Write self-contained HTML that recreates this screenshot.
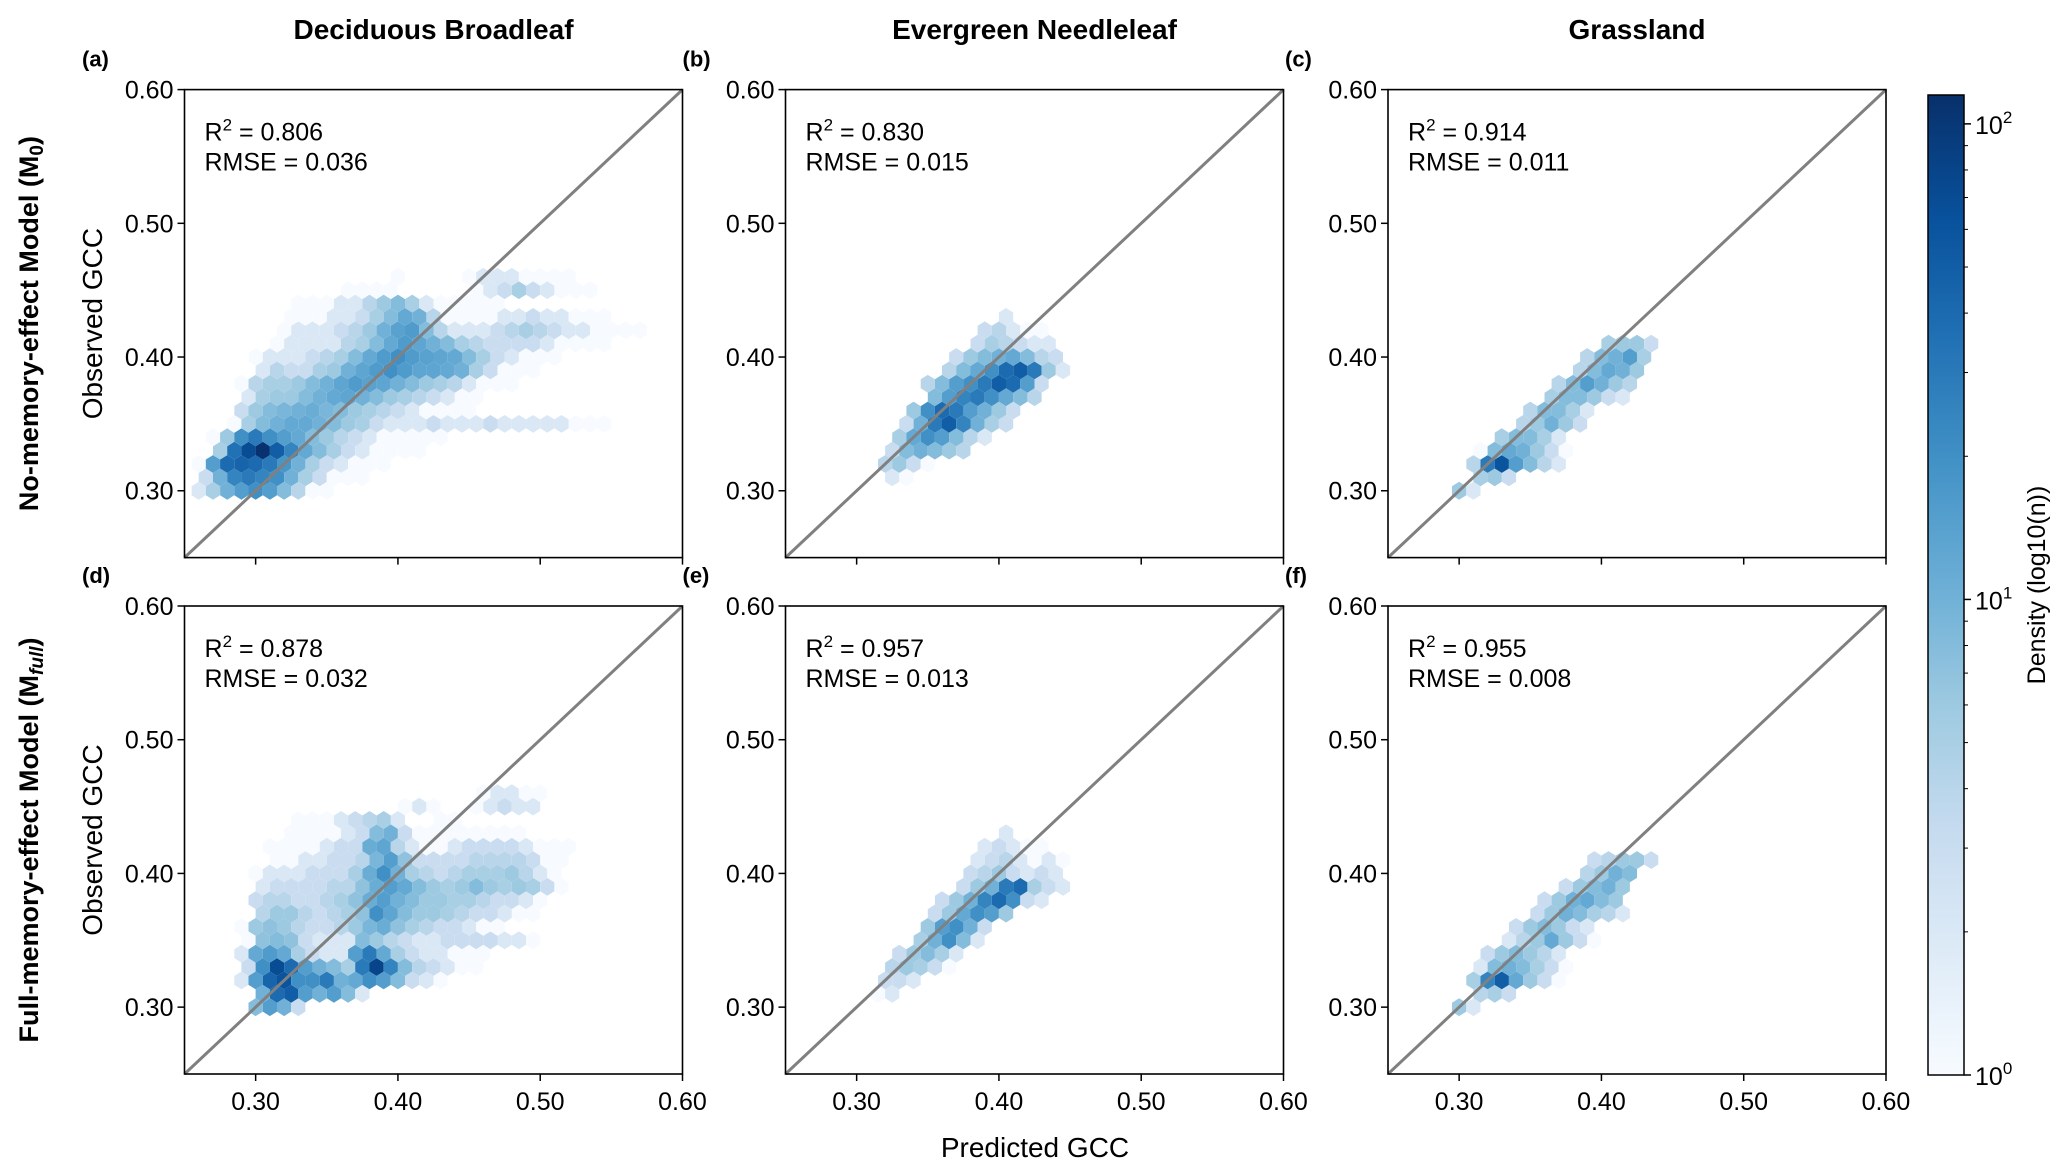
<!DOCTYPE html>
<html><head><meta charset="utf-8">
<style>
html,body{margin:0;padding:0;background:#fff;}
svg{display:block;font-family:"Liberation Sans",Arial,sans-serif;}
</style></head>
<body>
<svg id="fig" width="2067" height="1176" viewBox="0 0 2067 1176" xmlns="http://www.w3.org/2000/svg">
<rect x="0" y="0" width="2067" height="1176" fill="#fff"/>
</svg>
<script>
// ---------- data ----------
const columnTitles = ["Deciduous Broadleaf", "Evergreen Needleleaf", "Grassland"];
const rowTitles = ["No-memory-effect Model (M", "Full-memory-effect Model (M"];
const rowSubs = ["0", "full"];
const panelLetters = ["(a)", "(b)", "(c)", "(d)", "(e)", "(f)"];
const r2Values = ["0.806", "0.830", "0.914", "0.878", "0.957", "0.955"];
const rmseValues = ["0.036", "0.015", "0.011", "0.032", "0.013", "0.008"];
const tickValues = [0.30, 0.40, 0.50, 0.60];
const tickLabels = ["0.30", "0.40", "0.50", "0.60"];
const axisMin = 0.25, axisMax = 0.60;
const binWidth = 0.01;
const cbarMax = 115;

// panel a
const yA = [0.30,0.31,0.32,0.33,0.34,0.35,0.36,0.37,0.38,0.39,0.40,0.41,0.42,0.43,0.44,0.45,0.46];
const xStartA = [0.25,0.25,0.25,0.25,0.25,0.25,0.25,0.25,0.25,0.25,0.25,0.25,0.25,0.25,0.25,0.25,0.25];
const countsA = [
 [0,2,5,10,15,20,15,8,4,1,1],
 [0,3,10,25,30,25,20,10,5,3,1,1,1],
 [0,1,15,40,45,40,30,18,10,5,3,2,1,1,1],
 [0,0,5,35,70,110,50,25,12,8,5,3,2,1,1,1,1],
 [0,0,1,6,20,30,20,15,12,8,6,4,3,2,1,1,1,1,1],
 [0,0,0,1,5,8,10,12,12,10,8,6,5,3,2,2,2,3,2,2,2,3,2,2,2,2,2,1,1,1],
 [0,0,0,0,3,6,8,9,10,11,9,8,6,5,4,3,2,1,1,1,1],
 [0,0,0,0,2,5,6,6,8,10,12,13,10,8,6,5,4,3,2,1,1],
 [0,0,0,0,1,4,5,5,6,8,10,13,16,14,13,10,8,6,5,4,2,1,1,1],
 [0,0,0,0,0,2,4,3,3,5,6,10,13,16,20,16,13,13,12,10,5,3,1,1,1],
 [0,0,0,0,0,1,2,2,2,3,4,5,8,12,16,20,16,14,13,12,8,5,3,2,1,1,1],
 [0,0,0,0,0,0,1,2,2,2,2,4,5,8,12,16,13,10,8,5,4,3,3,3,3,2,1,1,1,1],
 [0,0,0,0,0,0,0,1,2,2,2,3,4,6,10,14,16,8,4,2,2,2,3,4,5,4,3,2,2,1,1,1,1],
 [0,0,0,0,0,0,0,1,1,1,2,2,3,5,8,12,10,4,1,1,1,1,2,2,3,2,2,1,1,1],
 [0,0,0,0,0,0,0,0,1,1,1,2,2,4,6,8,5,2,1,1,1,1,1],
 [0,0,0,0,0,0,0,0,0,0,0,1,1,1,1,0,0,0,0,0,1,2,3,5,3,2,1,1,1],
 [0,0,0,0,0,0,0,0,0,0,0,0,0,0,0,1,0,0,0,0,1,2,2,2,1,1,1,1]
];
// panel b
const yB = [0.31,0.32,0.33,0.34,0.35,0.36,0.37,0.38,0.39,0.40,0.41,0.42,0.43];
const xStartB = [0.32,0.32,0.32,0.33,0.33,0.34,0.35,0.35,0.36,0.37,0.38,0.39,0.40];
const countsB = [
 [2,1],[4,6,3,1],[3,8,10,8,6,4],[5,12,20,15,8,4,2],[3,10,30,50,25,10,5,3],
 [6,20,40,30,15,10,6,3],[8,15,25,30,20,12,8,4],[4,8,15,20,30,50,40,15,3],
 [4,8,12,20,40,50,30,6,2],[3,6,8,10,12,8,4,3],[3,5,4,3,2,2],[3,4,2,1,1],[2]
];
// panel c
const yC = [0.30,0.31,0.32,0.33,0.34,0.35,0.36,0.37,0.38,0.39,0.40,0.41];
const xStartC = [0.30,0.31,0.31,0.31,0.33,0.34,0.35,0.36,0.37,0.38,0.39,0.40];
const countsC = [
 [6,2],[5,6,3],[4,30,60,15,8,4,2],[1,8,12,10,6,3,1],[5,8,8,5,2],[4,6,10,6,3],
 [4,8,8,5,2],[5,8,8,6,3,2],[4,8,15,10,6,4],[4,8,12,10,6],[4,8,10,15,5],[5,6,6,3]
];
// panel d
const yD = yA.slice();
const xStartD = xStartA.slice();
const countsD = [
 [0,0,0,0,0,8,15,10,3],
 [0,0,0,0,0,10,40,50,15,10,15,8,2],
 [0,0,0,0,2,15,45,60,20,20,30,10,12,20,15,8,3,2,1],
 [0,0,0,0,3,20,70,40,15,10,8,5,30,80,25,8,4,3,2,1,1],
 [0,0,0,0,2,12,16,12,5,3,2,2,15,30,12,5,3,2,2,1,1,1],
 [0,0,0,0,1,7,8,7,3,2,2,2,8,6,4,3,2,2,3,3,3,3,2,2,1],
 [0,0,0,0,1,6,7,6,4,3,3,4,6,9,11,7,5,4,3,3,2,1,1],
 [0,0,0,0,0,4,6,6,4,3,4,5,7,20,13,8,6,6,5,4,3,3,2,1,1],
 [0,0,0,0,0,3,4,4,3,3,4,5,7,11,15,10,8,6,6,5,5,4,3,3,2,1],
 [0,0,0,0,0,2,3,3,3,3,4,4,7,11,15,12,8,6,5,6,8,6,5,6,5,3,1],
 [0,0,0,0,0,1,2,2,2,3,3,3,5,11,20,10,5,4,3,4,5,5,5,6,4,2,1],
 [0,0,0,0,0,0,1,1,2,2,3,3,4,9,15,7,3,3,3,3,4,4,4,4,3,1,1],
 [0,0,0,0,0,0,1,1,1,1,2,3,3,11,13,4,2,1,1,2,3,3,3,3,2,1,1,1],
 [0,0,0,0,0,0,0,1,1,1,1,2,3,8,10,3,1,1,1,1,1,1,1,1],
 [0,0,0,0,0,0,0,0,1,1,1,2,3,4,5,2,0,0,1,1],
 [0,0,0,0,0,0,0,0,0,0,0,0,0,0,0,1,2,1,0,0,1,2,3,2,2],
 [0,0,0,0,0,0,0,0,0,0,0,0,0,0,0,0,0,0,0,0,0,1,2,2,1,1]
];
// panel e
const yE = [0.31,0.32,0.33,0.34,0.35,0.36,0.37,0.38,0.39,0.40,0.41,0.42,0.43];
const xStartE = [0.31,0.32,0.32,0.33,0.34,0.35,0.35,0.36,0.37,0.38,0.38,0.39,0.40];
const countsE = [
 [1,2],[3,3,2],[4,6,5,3,1],[3,6,8,5,2],[5,10,20,8,2],[6,15,20,10,3],
 [3,6,12,20,15,6],[3,6,10,25,40,20,3,2],[3,6,10,30,40,5,3,2],[3,4,6,3,2,3,2],
 [2,3,4,2,1,2,1],[2,3,2,1,1],[2]
];
// panel f
const yF = [0.30,0.31,0.32,0.33,0.34,0.35,0.36,0.37,0.38,0.39,0.40,0.41];
const xStartF = [0.30,0.31,0.31,0.31,0.32,0.33,0.34,0.35,0.36,0.37,0.39,0.39];
const countsF = [
 [6,2],[4,5,3],[5,25,50,12,6,3,1],[2,8,10,8,5,3,1],[3,6,8,6,4,2],[2,4,6,12,6,3,1],
 [3,6,8,6,3,2],[3,6,10,8,5,4,2],[3,6,10,12,8,6],[3,6,8,10,6],[4,6,10,8],[3,4,6,6,3]
];

// ---------- layout ----------
const NS = "http://www.w3.org/2000/svg";
const svg = document.getElementById("fig");
const colLeft = [184.5, 785.5, 1388];
const rowTop = [89.6, 606];
const PW = 498, PH = 468;
const panels = [
 {y:yA, xs:xStartA, c:countsA}, {y:yB, xs:xStartB, c:countsB}, {y:yC, xs:xStartC, c:countsC},
 {y:yD, xs:xStartD, c:countsD}, {y:yE, xs:xStartE, c:countsE}, {y:yF, xs:xStartF, c:countsF}
];
const blues = [[247,251,255],[222,235,247],[198,219,239],[158,202,225],[107,174,214],[66,146,198],[33,113,181],[8,81,156],[8,48,107]];
function colorFor(n){
  let t = Math.log10(n)/Math.log10(cbarMax); t = Math.max(0, Math.min(1, t));
  const p = t*8, i = Math.min(7, Math.floor(p)), f = p - i;
  const a = blues[i], b = blues[i+1];
  return "rgb(" + a.map((v,k)=>Math.round(v+(b[k]-v)*f)).join(",") + ")";
}
function mk(tag, attrs, parent){
  const e = document.createElementNS(NS, tag);
  for (const k in attrs) e.setAttribute(k, attrs[k]);
  (parent||svg).appendChild(e);
  return e;
}
function txt(x, y, s, size, weight, anchor, parent){
  const t = mk("text", {x:x, y:y, "font-size":size, "font-weight":weight||"normal", "text-anchor":anchor||"start", fill:"#000"}, parent);
  t.textContent = s;
  return t;
}

for (let p = 0; p < 6; p++){
  const r = Math.floor(p/3), c = p%3;
  const L = colLeft[c], T = rowTop[r];
  const sx = v => L + (v-axisMin)/(axisMax-axisMin)*PW;
  const sy = v => T + PH - (v-axisMin)/(axisMax-axisMin)*PH;
  const g = mk("g", {});
  
  
  const hw = (sx(binWidth) - sx(0))/2;
  const rowH = sy(0) - sy(binWidth);
  const hr = rowH/1.5;
  const d = panels[p];
  const hexG = mk("g", {}, g);
  
  
  for (let i = 0; i < d.y.length; i++){
    const yRow = d.y[i];
    const off = (Math.round((yRow-0.30)/binWidth) % 2 !== 0) ? binWidth/2 : 0;
    for (let j = 0; j < d.c[i].length; j++){
      const n = d.c[i][j];
      if (!n) continue;
      const cx = sx(d.xs[i] + j*binWidth + off), cy = sy(yRow);
      const pts = [[0,-hr],[hw,-hr/2],[hw,hr/2],[0,hr],[-hw,hr/2],[-hw,-hr/2]].map(q=>(cx+q[0]).toFixed(1)+","+(cy+q[1]).toFixed(1)).join(" ");
      const h = mk("polygon", {points:pts, fill:colorFor(n)}, hexG);
      
      
    }
  }
  const ln = mk("line", {x1:sx(axisMin), y1:sy(axisMin), x2:sx(axisMax), y2:sy(axisMax), stroke:"#808080", "stroke-width":3}, g);
  
  
  const fr = mk("rect", {x:L, y:T, width:PW, height:PH, fill:"none", stroke:"#000", "stroke-width":1.6}, g);
  
  
  for (let k = 0; k < tickValues.length; k++){
    const v = tickValues[k];
    const xt = mk("line", {x1:sx(v), y1:T+PH, x2:sx(v), y2:T+PH+7, stroke:"#000", "stroke-width":1.5}, g);
    
    
    const yt = mk("line", {x1:L-7, y1:sy(v), x2:L, y2:sy(v), stroke:"#000", "stroke-width":1.5}, g);
    
    
    const yl = txt(L-11, sy(v)+9, tickLabels[k], 25, "normal", "end", g);
    
    
    if (r === 1){
      const xl = txt(sx(v), T+PH+36, tickLabels[k], 25, "normal", "middle", g);
      
      
    }
  }
  const st = mk("text", {x:L+20, y:T+51, "font-size":25, fill:"#000"}, g);
  
  
  st.innerHTML = 'R<tspan dy="-10" font-size="17">2</tspan><tspan dy="10"> = ' + r2Values[p] + '</tspan>';
  const rm = txt(L+20, T+81, "RMSE = " + rmseValues[p], 25, "normal", "start", g);
  
  
  const pl = txt(c === 0 ? 82 : L - 103, T - 23, panelLetters[p], 22, "bold", "start", g);
  
  
  if (c === 0){
    const oy = txt(0, 0, "Observed GCC", 28, "normal", "middle", g);
    oy.setAttribute("transform", "translate(102," + (T+PH/2) + ") rotate(-90)");
    
    
    const rt = mk("text", {"font-size":27, "font-weight":"bold", "text-anchor":"middle", fill:"#000", transform:"translate(38," + (T+PH/2) + ") rotate(-90)"}, g);
    
    
    rt.innerHTML = rowTitles[r] + '<tspan dy="5" font-size="19"' + (r===1?' font-style="italic"':'') + '>' + rowSubs[r] + '</tspan><tspan dy="-5">)</tspan>';
  }
  if (r === 0){
    const ct = txt(L + PW/2, 39, columnTitles[c], 28, "bold", "middle", g);
    
    
  }
}
const xt = txt(1035, 1157, "Predicted GCC", 28, "normal", "middle");



// colorbar
const CB = {x:1928, y:95, w:36, h:980};
const defs = mk("defs", {});
const grad = mk("linearGradient", {id:"cbg", x1:0, y1:1, x2:0, y2:0}, defs);
for (let i = 0; i < blues.length; i++){
  mk("stop", {offset:(i/8), "stop-color":"rgb(" + blues[i].join(",") + ")"}, grad);
}
const cb = mk("rect", {x:CB.x, y:CB.y, width:CB.w, height:CB.h, fill:"url(#cbg)", stroke:"#000", "stroke-width":1.5});


const cbY = n => CB.y + CB.h - Math.log10(n)/Math.log10(cbarMax)*CB.h;
for (let dec = 0; dec < 3; dec++){
  for (let m = 1; m < 10; m++){
    const n = m*Math.pow(10,dec);
    if (n > cbarMax) break;
    const major = (m === 1);
    const t = mk("line", {x1:CB.x+CB.w, y1:cbY(n), x2:CB.x+CB.w+(major?7:4), y2:cbY(n), stroke:"#000", "stroke-width":major?1.5:1});
    
    
    if (major){
      const lb = mk("text", {x:CB.x+CB.w+11, y:cbY(n)+10, "font-size":25, fill:"#000"});
      
      
      lb.innerHTML = '10<tspan dy="-11" font-size="17">' + dec + '</tspan>';
    }
  }
}
const cbt = txt(0, 0, "Density (log10(n))", 25, "normal", "middle");
cbt.setAttribute("transform", "translate(2045," + (CB.y + CB.h/2) + ") rotate(-90)");


</script>
</body></html>
